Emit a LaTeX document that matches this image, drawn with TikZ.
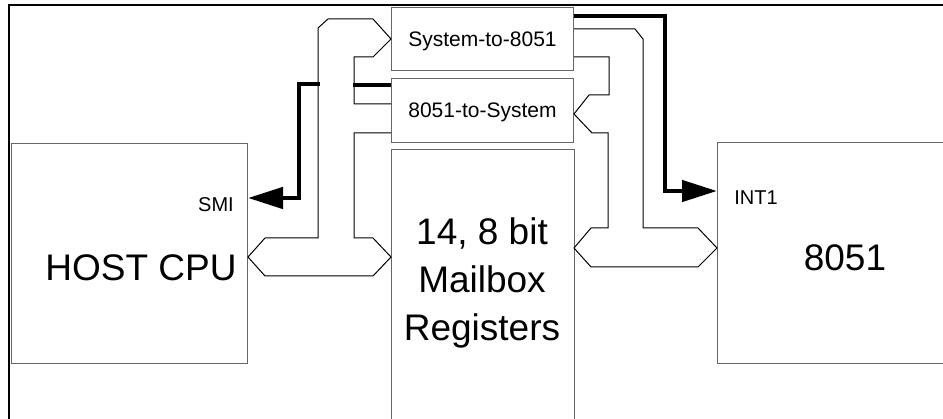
\documentclass[tikz,border=0pt]{standalone}
\usepackage{fontspec}
\setmainfont{Liberation Sans}
\usetikzlibrary{arrows.meta,positioning}

\begin{document}
\begin{tikzpicture}[x=1pt,y=-1pt,
    box/.style={draw=black!60, line width=1pt, inner sep=0pt, anchor=north west},
    reg/.style={box, minimum width=182pt, text depth=0pt, font=\fontsize{21}{24}\selectfont},
    bus/.style={line width=1pt},
    sig/.style={line width=4.5pt, -{Triangle[length=35pt,width=21pt]}},
    big/.style={font=\fontsize{37}{48}\selectfont},
    small/.style={font=\fontsize{20}{24}\selectfont}]
\useasboundingbox (0,0) rectangle (943,419);
% frame
\draw[line width=2pt] (9,419) |- (943,5);
% blocks
\node[box, minimum width=236pt, minimum height=220pt] (host) at (11,143) {};
\node[reg, minimum height=63pt] (s2e) at (391,7) {System-to-8051};
\node[reg, minimum height=64pt] (e2s) at (391,78) {8051-to-System};
\node[box, draw=none, minimum width=182pt, minimum height=275pt] (mbox) at (391,150) {};
\node[box, draw=none, minimum width=230pt, minimum height=220pt] (cpu) at (717,143) {};
\draw[black!60, line width=1pt] (mbox.south west) |- (mbox.north east) -- (mbox.south east);
\draw[black!60, line width=1pt] (cpu.north east) -| (cpu.south west) -- (cpu.south east);
% labels
\node[big] (hostlbl) at (141,268) {HOST CPU};
\node[big] (cpulbl) at (845,258) {8051};
\node[big, align=center] (mboxlbl) at (482,283) {14, 8 bit\\Mailbox\\Registers};
\node[small] (smi) at (216,205) {SMI};
\node[small] (int1) at (756,198) {INT1};
% host side bus
\draw[bus] (e2s.west |- 0,104) -- (354,104) -- (354,57) -- (373,57) -- (s2e.west |- 0,39)
  -- (373,19) -- (328,19) -- (318,28) -- (318,238) -- (265,238) -- (host.east |- 0,257)
  -- (265,276) -- (373,276) -- (mbox.west |- 0,257) -- (373,238) -- (354,238)
  -- (354,133) -- (e2s.west |- 0,133);
% 8051 side bus
\draw[bus] (s2e.east |- 0,29) -- (635,29) -- (643,39) -- (643,228) -- (698,228)
  -- (cpu.west |- 0,248) -- (698,267) -- (591,267) -- (mbox.east |- 0,248) -- (591,228)
  -- (608,228) -- (608,133) -- (592,133) -- (e2s.east |- 0,114) -- (589,95) -- (609,95)
  -- (609,57) -- (s2e.east |- 0,57);
% interrupts
\draw[sig] (s2e.east |- 0,16) -| (665,191) -- (cpu.west |- 0,191);
\draw[line width=4.5pt] (e2s.west |- 0,85) -- (353,85);
\draw[sig] (320,84) -| (299,198) -- (host.east |- 0,198);
\end{tikzpicture}
\end{document}
